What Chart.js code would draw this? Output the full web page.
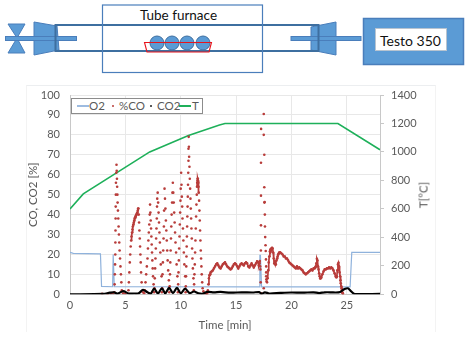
<!DOCTYPE html>
<html>
<head>
<meta charset="utf-8">
<script src="https://cdn.jsdelivr.net/npm/chart.js@4"></script>
<style>
    html, body { margin: 0; padding: 0; background: #fff; }
    body { width: 467px; height: 337px; position: relative; overflow: hidden; font-family: Lato, sans-serif; }
    #esquema { position: absolute; left: 0; top: 0; }
    #cartao { position: absolute; left: 26px; top: 85px; width: 410px; height: 247px; border-top: 1px solid #eceef0; border-left: 1px solid #f3f3f3; border-right: 1px solid #f3f3f3; box-sizing: border-box; }
    #chart { position: absolute; left: 26px; top: 85px; }
    #tituloT { position: absolute; left: 423px; top: 195px; transform: translate(-50%, -50%) rotate(-90deg); color: #595959; font-size: 11.5px; white-space: nowrap; }
    #legenda { position: absolute; left: 71px; top: 98px; width: 132px; height: 16px; box-sizing: border-box; border: 1.5px solid #8c8c8c; background: #fff; color: #595959; font-size: 11.5px; line-height: 13px; white-space: nowrap; }
    #legenda span { position: absolute; top: 0; }
    #legenda i { position: absolute; display: block; }
</style>
</head>
<body>
<svg id="esquema" width="467" height="85" viewBox="0 0 467 85">
    <g fill="#5b9bd5" stroke="#4a7ebb" stroke-width="1">
        <polygon points="8,24 25,24 17,38"/>
        <polygon points="8,53 25,53 17,38"/>
        <polygon points="34,22 57,26 59,50 34,55"/>
        <polygon points="311,27 336,22 336,55 311,50"/>
        <rect x="5.5" y="36.5" width="71" height="4"/>
        <rect x="291" y="36.5" width="70" height="4"/>
        <rect x="363.5" y="18.5" width="100" height="46" stroke-width="1.5"/>
    </g>
    <rect x="55.5" y="25" width="263" height="26" fill="none" stroke="#3e6fa0" stroke-width="2"/>
    <rect x="102.5" y="5" width="160" height="67.5" fill="none" stroke="#4a7ebb" stroke-width="1.2"/>
    <g fill="#5b9bd5" stroke="#3e6fa0" stroke-width="1">
        <circle cx="157" cy="43" r="7"/>
        <circle cx="172" cy="43" r="7"/>
        <circle cx="187" cy="43" r="7"/>
        <circle cx="203" cy="43" r="7"/>
    </g>
    <polygon points="144.5,42.5 211.5,42.5 209,52 147,52" fill="none" stroke="#e8141c" stroke-width="1.1"/>
    <rect x="375.5" y="28.5" width="71" height="22" fill="#fff" stroke="#b8c4d0" stroke-width="1"/>
    <text x="178.5" y="20" text-anchor="middle" font-size="13.5" fill="#111">Tube furnace</text>
    <text x="410.5" y="46" text-anchor="middle" font-size="14" fill="#111">Testo 350</text>
</svg>
<div id="cartao"></div>
<canvas id="chart" width="410" height="247"></canvas>
<div id="tituloT">T[°C]</div>
<div id="legenda"></div>

<script>
const xTicks = [0, 5, 10, 15, 20, 25];
const yLeftTicks = [0, 10, 20, 30, 40, 50, 60, 70, 80, 90, 100];
const yRightTicks = [0, 200, 400, 600, 800, 1000, 1200, 1400];

const tempoO2 = [0, 0.3, 2.75, 2.85, 3.85, 3.9, 3.95, 4.0, 17.1, 17.15, 17.2, 17.3, 25.3, 25.45, 28];
const o2 = [21, 20.5, 20.3, 4, 3.8, 20, 20, 3.8, 3.7, 19.5, 19.5, 3.7, 3.7, 21, 21];

const tempoTemp = [0, 1.2, 7.2, 10.7, 13.5, 14, 24.2, 28];
const temp = [600, 705, 1000, 1115, 1190, 1200, 1200, 1015];

const tempoCO2 = [0, 3, 3.6, 4, 4.3, 4.8, 5.3, 5.8, 6.2, 6.6, 7.0, 7.3, 7.6, 7.95, 8.3, 8.6, 8.95, 9.3, 9.66, 10.0, 10.4, 10.8, 11.2, 11.6, 12.0, 12.4, 13, 13.6, 14.5, 15.5, 16.5, 17.1, 17.3, 17.6, 18, 19, 20, 21, 22, 22.5, 23, 23.6, 24, 24.4, 24.8, 25.1, 25.4, 25.7, 28];
const co2 = [0, 0.2, 0.8, 1, 0.3, 1.6, 0.4, 0.4, 0.5, 2.2, 1, 0.4, 2.8, 0.4, 3, 0.5, 3.2, 0.6, 3.2, 0.5, 2.8, 0.6, 1.4, 0.5, 0.3, 1.2, 1, 1.2, 0.8, 1, 0.9, 1.1, 0.2, 1, 0.4, 0.7, 0.9, 0.8, 1, 0.6, 1, 1, 0.9, 1.2, 2.6, 3, 1.5, 0.2, 0.2];

// %CO: uma linha por trecho, lida ponto a ponto da figura
const tempoCO = [
    2.9, 3.4, 3.7, 3.9, 4.0, 4.03, 4.05, 4.07, 4.09, 4.1, 4.11, 4.12, 4.13, 4.14, 4.15, 4.18, 4.2, 4.22, 4.24, 4.26, 4.28, 4.3, 4.33, 4.36, 4.39, 4.42, 4.45, 4.48, 4.52, 4.56, 4.6, 4.64, 4.68, 4.8, 5.0,
    5.28, 5.32, 5.36, 5.4, 5.44, 5.48, 5.52, 5.56, 5.6, 5.64, 5.68, 5.72, 5.76, 5.8, 5.84, 5.88, 5.92, 5.96, 6.0, 6.04, 6.08, 6.12, 6.15, 6.18, 6.21, 6.24, 6.27, 6.3, 6.33, 6.36, 6.39, 6.42, 6.47, 6.6,
    6.7, 6.76, 6.82, 6.88, 6.94, 7.0, 7.04, 7.08, 7.12, 7.16, 7.2, 7.23, 7.26, 7.29, 7.32, 7.35, 7.38, 7.41, 7.44, 7.47, 7.5, 7.55,
    7.6, 7.63, 7.66, 7.69, 7.72, 7.75, 7.78, 7.81, 7.84, 7.86, 7.88, 7.92, 7.96, 8.0, 8.04, 8.08, 8.12, 8.16, 8.2, 8.27,
    8.3, 8.33, 8.36, 8.39, 8.42, 8.45, 8.48, 8.5, 8.54, 8.58, 8.62, 8.66, 8.7, 8.74, 8.78, 8.82, 8.87, 8.93,
    8.97, 9.0, 9.03, 9.06, 9.09, 9.12, 9.15, 9.18, 9.22, 9.25, 9.29, 9.33, 9.37, 9.41, 9.45, 9.49, 9.53, 9.58, 9.63, 9.7,
    9.74, 9.77, 9.8, 9.83, 9.86, 9.89, 9.92, 9.95, 9.98, 10.0, 10.04, 10.07, 10.1, 10.13, 10.16, 10.2, 10.24, 10.28, 10.33, 10.4,
    10.44, 10.46, 10.48, 10.5, 10.52, 10.54, 10.56, 10.58, 10.6, 10.62, 10.64, 10.66, 10.68, 10.7, 10.7, 10.72, 10.74, 10.76, 10.79, 10.82, 10.85, 10.88, 10.91, 10.94, 10.97, 11.0, 11.03, 11.06, 11.1, 11.15,
    11.18, 11.21, 11.24, 11.27, 11.3, 11.33, 11.36, 11.39, 11.42, 11.45, 11.47, 11.49, 11.51, 11.53, 11.55, 11.57, 11.59, 11.61, 11.63, 11.66, 11.69, 11.72, 11.75, 11.78, 11.81, 11.84, 11.87, 11.9, 11.94, 11.98, 12.05, 12.15, 12.3,
    12.4, 12.45, 12.5, 12.55, 12.6, 12.65, 12.7, 12.8, 12.9, 13.0, 13.1, 13.2, 13.3, 13.4, 13.5, 13.6, 13.7, 13.8, 13.9, 14.0, 14.1, 14.2, 14.3, 14.4, 14.5, 14.6, 14.7, 14.8, 14.9, 15.0, 15.1, 15.2, 15.3, 15.4, 15.5, 15.6, 15.7, 15.8, 15.9, 16.0, 16.1, 16.2, 16.3, 16.4, 16.5, 16.6, 16.7, 16.8, 16.9, 17.0, 17.05, 17.1, 17.14, 17.18,
    17.2, 17.22, 17.24, 17.25, 17.25, 17.25, 17.26, 17.28, 17.5, 17.5, 17.5, 17.55, 17.55, 17.56, 17.58, 17.6, 17.61, 17.63, 17.66, 17.68, 17.7, 17.72, 17.72, 17.72, 17.74, 17.76,
    17.8, 17.85, 17.9, 17.95, 18.0, 18.05, 18.1, 18.15, 18.2, 18.25, 18.3, 18.35, 18.4, 18.45, 18.5, 18.55, 18.6, 18.65, 18.7, 18.75, 18.8, 18.85, 18.9, 18.95, 19.0, 19.1, 19.2, 19.3, 19.4, 19.5, 19.6, 19.7, 19.8, 19.9, 20.0, 20.1, 20.2, 20.3, 20.4, 20.5, 20.6, 20.7, 20.8, 20.9, 21.0, 21.1, 21.2, 21.3, 21.4, 21.5, 21.6, 21.7, 21.8, 21.9, 22.0, 22.1, 22.15, 22.2, 22.25, 22.3, 22.35, 22.4, 22.45, 22.5, 22.55, 22.6, 22.65, 22.7, 22.8, 22.9, 23.0, 23.1, 23.2, 23.3, 23.4, 23.5, 23.6, 23.7, 23.8, 23.9, 24.0, 24.05, 24.1, 24.15, 24.2, 24.25, 24.3, 24.35, 24.4, 24.43, 24.46, 24.5, 24.53, 24.56, 24.6, 24.63, 24.66, 24.7, 24.74, 24.78, 24.82, 24.9, 25.2
];
const co = [
    0.3, 0.2, 0.5, 0.6, 1, 5, 10, 15, 20, 26, 32, 38, 44, 50, 56, 61, 65, 62, 58, 54, 50, 46, 42, 38, 34, 30, 26, 22, 18, 14, 10, 6, 2, 0.5, 0.4,
    2, 6, 11, 16, 20, 24, 27, 29, 31, 32.5, 34, 35, 36, 37, 38, 38.5, 39, 39.5, 40, 40.5, 41, 42, 43, 43, 40, 36, 32, 28, 24, 20, 16, 11, 6, 1, 0.5,
    2, 6, 10, 14, 18, 23, 27, 31, 35, 40, 45, 41, 37, 33, 29, 25, 21, 17, 13, 9, 5, 1,
    3, 8, 13, 18, 23, 28, 33, 38, 44, 48, 51, 46, 41, 36, 31, 26, 21, 15, 9, 1,
    3, 10, 16, 22, 28, 34, 42, 53, 48, 43, 37, 32, 27, 22, 17, 12, 7, 1,
    4, 10, 16, 22, 28, 34, 40, 46, 51, 56, 51, 46, 41, 36, 31, 26, 21, 15, 9, 1,
    5, 11, 17, 23, 29, 35, 41, 47, 53, 61, 55, 49, 44, 38, 33, 27, 21, 15, 9, 1,
    4, 9, 14, 19, 24, 29, 34, 39, 44, 49, 55, 61, 67, 73, 79, 74, 69, 64, 58, 53, 48, 43, 38, 33, 28, 23, 18, 13, 8, 2,
    5, 10, 15, 21, 27, 33, 39, 45, 50, 54, 56, 57, 58, 58, 57, 56, 54, 51, 47, 42, 37, 32, 27, 22, 18, 14, 10, 6, 3, 1.5, 0.5, 0.3, 0.3,
    2, 5, 8, 9.5, 10, 11, 11.5, 12, 13, 14, 15, 15.5, 14.5, 13.5, 13, 14, 15, 15.5, 16, 15, 14, 13.5, 13, 12.5, 13, 14, 15, 15.5, 15, 14, 13, 14, 15, 15.5, 15, 14.5, 15.5, 16, 15.5, 14, 13.5, 14.5, 15.5, 14.5, 13.5, 14.5, 15.5, 16.5, 16, 14.5, 15.5, 16.7, 14, 12.5,
    6, 22, 34.6, 49.5, 66, 83, 0.5, 3, 90.5, 80, 70, 53.7, 46, 46.3, 40, 34, 28.7, 24.6, 21.7, 17.5, 14, 11, 9, 7.5, 6.5, 6,
    8, 12, 16, 19, 21.5, 22.5, 22, 23, 23.3, 23, 21, 18, 15.5, 16.5, 15, 15, 17, 18, 19, 20, 20.5, 21, 21, 21, 20.5, 20, 19, 19, 18, 18, 17, 16, 15.5, 15, 14.5, 14, 13.5, 13, 14, 13, 13.5, 13, 12.5, 12, 11, 10.5, 10, 10.5, 11, 11.5, 12, 12.5, 12, 13, 13, 13.5, 14, 15.5, 17.8, 17, 14, 12.5, 10.5, 9, 8, 8, 8.5, 10, 11.5, 12.5, 12.5, 13, 13, 13.5, 13, 13.5, 13, 12, 10.5, 9, 8.5, 9, 12, 15, 15.8, 14, 11, 9, 7, 5.5, 4, 3, 2, 1, 0.5, 0.3
];

// trechos onde os pontos de %CO ficam tão juntos que parecem uma linha grossa
const trechosDensos = [[5.5, 6.15], [11.47, 11.63], [12.5, 17.14], [17.85, 24.7]];

const toXY = (xs, ys) => xs.map((x, i) => ({ x, y: ys[i] }));
const corCO = "#b83c3a";

// legenda em HTML, igual à do Excel (dentro da área do gráfico)
const legendaItens = [
    { nome: "O2", tipo: "line", cor: "#9dbbe0", x: 5, tx: 17 },
    { nome: "%CO", tipo: "dot", cor: corCO, x: 40, tx: 47 },
    { nome: "CO2", tipo: "dot", cor: "#222", x: 78, tx: 85 },
    { nome: "T", tipo: "line", cor: "#1eb05a", x: 107, tx: 120 }
];
const legenda = document.getElementById("legenda");
legendaItens.forEach(item => {
    const m = document.createElement("i");
    if (item.tipo === "line") {
        m.style.cssText = `left:${item.x}px;top:6px;width:12px;height:1.5px;background:${item.cor}`;
    } else {
        m.style.cssText = `left:${item.x}px;top:6px;width:2px;height:2px;background:${item.cor};border-radius:50%`;
    }
    legenda.appendChild(m);
    const t = document.createElement("span");
    t.textContent = item.nome;
    t.style.left = item.tx + "px";
    legenda.appendChild(t);
});

const corTexto = "#595959";
const corGrade = "#e8e8e8";
const fonte = { family: "Lato", size: 11 };
const fonteTitulo = { family: "Lato", size: 11.5 };

new Chart(document.getElementById("chart"), {
    type: "scatter",
    data: {
        datasets: [
            { label: "T", data: toXY(tempoTemp, temp), yAxisID: "y2", showLine: true, borderColor: "#1eb05a", borderWidth: 1.6, pointRadius: 0, order: 4 },
            { label: "O2", data: toXY(tempoO2, o2), yAxisID: "y", showLine: true, borderColor: "#8fb2dc", borderWidth: 1.2, pointRadius: 0, order: 3 },
            {
                label: "%CO", data: toXY(tempoCO, co), yAxisID: "y", showLine: true,
                borderColor: corCO, borderWidth: 1.7, backgroundColor: corCO,
                pointBorderWidth: 0, pointRadius: 1.3, order: 2,
                segment: {
                    borderColor: ctx => trechosDensos.some(t => ctx.p0.parsed.x >= t[0] && ctx.p1.parsed.x <= t[1]) ? corCO : "transparent"
                }
            },
            { label: "CO2", data: toXY(tempoCO2, co2), yAxisID: "y", showLine: true, borderColor: "#000", borderWidth: 2.2, pointRadius: 0, tension: 0.3, order: 1 }
        ]
    },
    options: {
        responsive: false,
        animation: false,
        layout: { padding: { top: 10, bottom: 0, left: 0, right: 0 } },
        plugins: { legend: { display: false }, tooltip: { enabled: false } },
        scales: {
            x: {
                type: "linear", min: 0, max: 28,
                afterBuildTicks: s => { s.ticks = xTicks.map(v => ({ value: v })); },
                afterFit: s => { s.height = 37.7; s.paddingLeft = 0; s.paddingRight = 0; },
                ticks: { color: corTexto, font: fonte, maxRotation: 0, padding: 5 },
                grid: { color: corGrade, lineWidth: 1, drawTicks: false },
                border: { color: "#c8c8c8" },
                title: { display: true, text: "Time [min]", color: corTexto, font: fonteTitulo, padding: { top: 1, bottom: 0 } }
            },
            y: {
                type: "linear", min: 0, max: 100, position: "left",
                afterBuildTicks: s => { s.ticks = yLeftTicks.map(v => ({ value: v })); },
                afterFit: s => { s.width = 44; s.paddingTop = 0; s.paddingBottom = 0; },
                ticks: { color: corTexto, font: fonte, padding: 10 },
                grid: { color: corGrade, lineWidth: 1, drawTicks: false },
                border: { color: "#c8c8c8" },
                title: { display: true, text: "CO, CO2 [%]", color: corTexto, font: fonteTitulo, padding: 0 }
            },
            y2: {
                type: "linear", min: 0, max: 1400, position: "right",
                afterBuildTicks: s => { s.ticks = yRightTicks.map(v => ({ value: v })); },
                afterFit: s => { s.width = 56; s.paddingTop = 0; s.paddingBottom = 0; },
                ticks: { color: corTexto, font: fonte, padding: 7, callback: v => String(v) },
                grid: { drawOnChartArea: false, drawTicks: true, tickLength: 4, color: "#c8c8c8" },
                border: { color: "#c8c8c8" }
            }
        }
    }
});
</script>
</body>
</html>
